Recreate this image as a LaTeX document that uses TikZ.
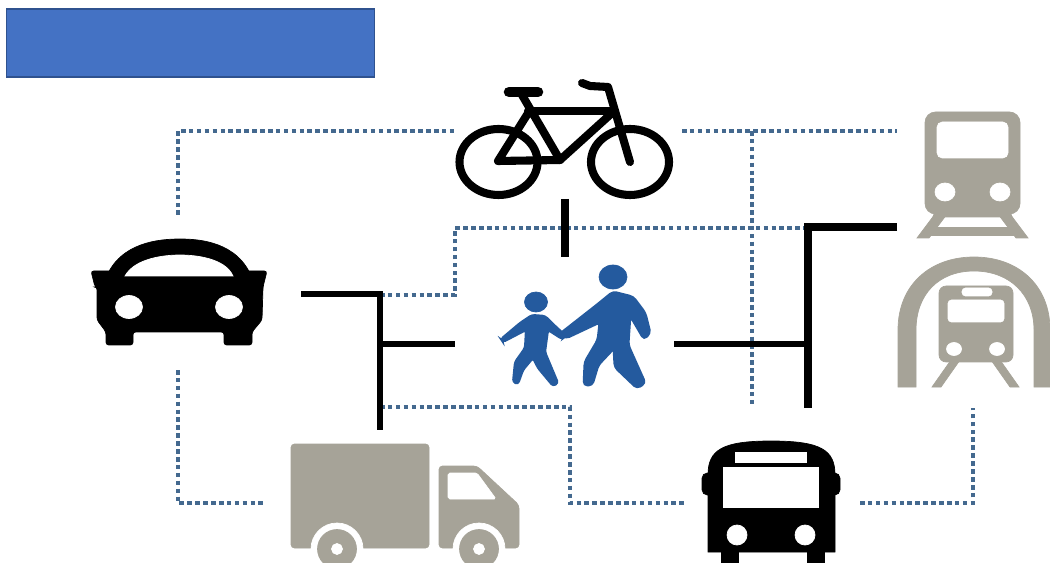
\documentclass[tikz,border=0pt]{standalone}
\usepackage{xcolor}
\definecolor{boxblue}{HTML}{4472C4}
\definecolor{boxedge}{HTML}{2F528F}
\definecolor{linkblue}{HTML}{44698F}
\definecolor{walkblue}{HTML}{245A9E}
\definecolor{icongray}{HTML}{A6A398}
\tikzset{
  dotlink/.style={draw=linkblue, line width=2.8pt, dash pattern=on 2.6pt off 1.9pt},
  barlink/.style={draw=black, line width=#1},
  titlebox/.style={draw=boxedge, fill=boxblue, line width=0.6pt, minimum width=7.38cm, minimum height=1.36cm, inner sep=0pt},
  bikeline/.style={draw=black, line width=4.6pt, line cap=round, line join=round, fill=none}
}
\begin{document}
\begin{tikzpicture}[x=0.02cm,y=-0.02cm]
\clip (0,0) rectangle (1050,563);
\fill[white] (0,0) rectangle (1050,563);

\node[titlebox] (banner) at (190.5,43) {};

\coordinate (carup) at (178,215);
\coordinate (cartop) at (178,131);
\coordinate (bikeleft) at (455,131);
\coordinate (bikeright) at (682,131);
\coordinate (trainleft) at (897,131);
\coordinate (railtop) at (752,131);
\coordinate (railbot) at (752,405);
\coordinate (cardot) at (380,295);
\coordinate (stepa) at (455,295);
\coordinate (stepb) at (455,228);
\coordinate (stepc) at (805,228);
\coordinate (cardown) at (178,370);
\coordinate (carcorner) at (178,503);
\coordinate (truckleft) at (265,503);
\coordinate (truckdot) at (380,407);
\coordinate (stepd) at (570,407);
\coordinate (stepe) at (570,503);
\coordinate (busleft) at (685,503);
\coordinate (busright) at (860,503);
\coordinate (metrocorner) at (973,503);
\coordinate (metrodown) at (973,408);
\coordinate (carbar) at (301,294);
\coordinate (barcorner) at (380,294);
\coordinate (barbot) at (380,430);
\coordinate (barmid) at (380,344);
\coordinate (walkleft) at (455,344);
\coordinate (biketop) at (565,199);
\coordinate (bikebot) at (565,257);
\coordinate (walkright) at (674,344);
\coordinate (barjoin) at (808,344);
\coordinate (trainbar) at (897,227);
\coordinate (traincorner) at (808,227);
\coordinate (trainbot) at (808,408);

\draw[dotlink] (carup) -- (cartop) -- (bikeleft);
\draw[dotlink] (bikeright) -- (trainleft);
\draw[dotlink] (railtop) -- (railbot);
\draw[dotlink] (cardot) -- (stepa) -- (stepb) -- (stepc);
\draw[dotlink] (cardown) -- (carcorner) -- (truckleft);
\draw[dotlink] (truckdot) -- (stepd) -- (stepe) -- (busleft);
\draw[dotlink] (busright) -- (metrocorner) -- (metrodown);

\draw[barlink=3.8pt] (carbar) -- (barcorner) -- (barbot);
\draw[barlink=3.6pt] (barmid) -- (walkleft);
\draw[barlink=5pt] (biketop) -- (bikebot);
\draw[barlink=3.2pt] (walkright) -- (barjoin);
\draw[barlink=4.8pt] (trainbar) -- (traincorner) -- (trainbot);

\draw[bikeline] (498.5,162) ellipse (39 and 33);
\draw[bikeline] (630,162) ellipse (39 and 33);
\draw[bikeline] (522,95) -- (560,160) -- (498,161) -- (530,110);
\draw[bikeline] (528,111) -- (612,111);
\draw[bikeline] (612,113) -- (560,160);
\draw[bikeline] (582,83) -- (590,86) -- (608,87) -- (630,162);
\draw[bikeline, line width=6pt] (509,92) -- (538,92);

\filldraw[black] (106,278) .. controls (120,242) and (160,239) .. (180,239) .. controls (200,239) and (238,242) .. (252,278) -- cycle;
\filldraw[black, rounded corners=1.5pt] (91,271) -- (267,271) -- (263,287) -- (262,320) -- (252,332) -- (252,345) -- (224,345) -- (224,332) -- (133,332) -- (133,345) -- (106,345) -- (106,332) -- (97,320) -- (97,287) -- (95,287) -- cycle;
\filldraw[white] (125,276) .. controls (135,258) and (165,255) .. (180,255) .. controls (195,255) and (225,258) .. (233,276) -- cycle;
\filldraw[white] (129,307) ellipse (13.5 and 11.5);
\filldraw[white] (229,307) ellipse (13.5 and 11.5);

\filldraw[icongray, rounded corners=2pt] (291,444) rectangle (429,548);
\filldraw[icongray, rounded corners=2pt] (439,466) -- (477,466) -- (519,505) -- (519,548) -- (439,548) -- cycle;
\filldraw[white, rounded corners=1pt] (448,473) -- (477,473) -- (496,499) -- (448,499) -- cycle;
\filldraw[white] (337,549) circle (26);
\filldraw[white] (479,549) circle (26);
\filldraw[icongray] (337,549) circle (19.5);
\filldraw[icongray] (479,549) circle (19.5);
\filldraw[white] (337,549) circle (5.5);
\filldraw[white] (479,549) circle (5.5);

\filldraw[black, rounded corners=3pt] (702,473) rectangle (840,495);
\filldraw[black] (708,475) .. controls (708,450) and (722,441) .. (771,441) .. controls (821,441) and (835,450) .. (835,475) -- (835,552) -- (708,552) -- cycle;
\filldraw[black] (721,545) rectangle (738,563);
\filldraw[black] (807,545) rectangle (824,563);
\filldraw[white] (735,452) rectangle (806,462);
\filldraw[white] (723,467) rectangle (818,507);
\filldraw[white] (737,535) circle (10);
\filldraw[white] (805,535) circle (10);

\filldraw[icongray, rounded corners=6pt] (925,112) rectangle (1020,214);
\filldraw[icongray] (937,205) -- (1008,205) -- (1012,217) -- (933,217) -- cycle;
\filldraw[white, rounded corners=3pt] (937,122) rectangle (1008,158);
\filldraw[white] (945,192) ellipse (10 and 9);
\filldraw[white] (1000,192) ellipse (10 and 9);
\filldraw[icongray] (938,210) -- (917,238) -- (929,238) -- (950,210) -- cycle;
\filldraw[icongray] (995,210) -- (1016,238) -- (1028,238) -- (1007,210) -- cycle;
\filldraw[icongray] (930,227) rectangle (1015,235);

\filldraw[icongray] (898,387) -- (898,330) .. controls (898,285) and (930,257) .. (974,257) .. controls (1018,257) and (1050,285) .. (1050,330) -- (1050,387) -- (1034,387) -- (1034,330) .. controls (1034,295) and (1010,271) .. (974,271) .. controls (938,271) and (916,295) .. (916,330) -- (916,387) -- cycle;
\filldraw[icongray, rounded corners=4pt] (939,286) rectangle (1013,362);
\filldraw[white, rounded corners=2pt] (962,288) rectangle (992,296);
\filldraw[white, rounded corners=2pt] (948,300) rectangle (1004,322);
\filldraw[white] (954,349) ellipse (7.5 and 6.5);
\filldraw[white] (997,349) ellipse (7.5 and 6.5);
\filldraw[icongray] (951,360) -- (932,387) -- (941,387) -- (960,360) -- cycle;
\filldraw[icongray] (991,360) -- (1010,387) -- (1019,387) -- (1000,360) -- cycle;

\filldraw[walkblue] (613,277) ellipse (14 and 12);
\filldraw[walkblue, line width=1.6pt, rounded corners=2pt] (613,292) -- (633,297) -- (645,313) -- (650,333) -- (644,339) -- (637,327) -- (630,315) -- (628,345) -- (645,383) -- (637,388) -- (615,367) -- (614,348) -- (598,365) -- (592,385) -- (584,385) -- (585,362) -- (598,340) -- (600,322) -- (566,338) -- (560,334) -- (597,305) -- cycle;

\filldraw[walkblue] (536,302) ellipse (11.5 and 10);
\filldraw[walkblue, line width=1.2pt, rounded corners=1.5pt] (532,315) -- (545,316) -- (552,323) -- (566,336) -- (562,339) -- (548,330) -- (545,352) -- (558,383) -- (553,386) -- (538,368) -- (533,358) -- (523,370) -- (518,384) -- (513,382) -- (515,362) -- (525,348) -- (526,330) -- (503,342) -- (501,339) -- (520,323) -- cycle;
\end{tikzpicture}
\end{document}
